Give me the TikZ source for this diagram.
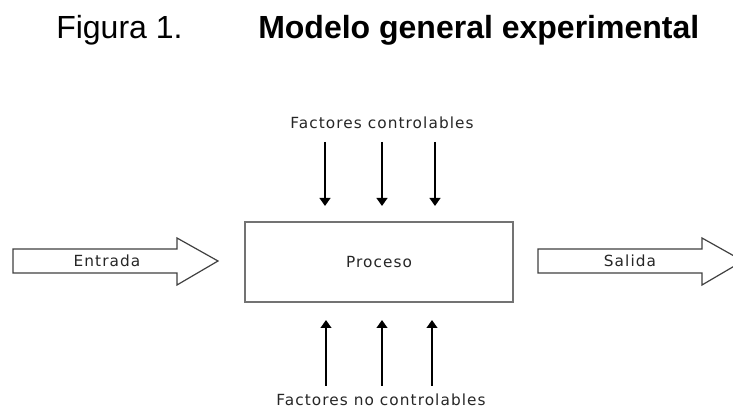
\documentclass[tikz,border=0pt]{standalone}
\usepackage{fontspec}
\setmainfont{Liberation Sans}
\newfontfamily\lblfont[LetterSpace=7]{DejaVu Sans}
\usetikzlibrary{arrows.meta}
\begin{document}
\begin{tikzpicture}[x=0.75pt,y=-0.75pt,
  lbl/.style={font=\lblfont\fontsize{11.5pt}{13pt}\selectfont, inner sep=0pt, text=black!85},
  fatarrow/.style={draw=black!75, line width=0.9pt, fill=white, line join=miter},
  thinarrow/.style={line width=1.5pt, -{Triangle[width=8pt,length=6pt]}},
  procbox/.style={draw=black!55, line width=0.9pt, minimum width=268*0.75pt, minimum height=80*0.75pt, inner sep=0pt}
]
\useasboundingbox (0,0) rectangle (733,409);
\clip (0,0) rectangle (733,409);
% title
\node[anchor=base west, inner sep=0pt, font=\fontsize{24pt}{28pt}\selectfont] (fig) at (56,39) {Figura 1.};
\node[anchor=base west, inner sep=0pt, font=\fontsize{24pt}{28pt}\selectfont\bfseries] (tit) at (258,39) {Modelo general experimental};
% process box
\node[procbox, lbl] (proc) at (379,262) {Proceso};
% Entrada arrow
\draw[fatarrow] (13,249) -- (177,249) -- (177,238) -- (218,261) -- (177,285) -- (177,273) -- (13,273) -- cycle;
\node[lbl] (ent) at (107,261) {Entrada};
% Salida arrow
\draw[fatarrow] (538,249) -- (702,249) -- (702,238) -- (743,261) -- (702,285) -- (702,273) -- (538,273) -- cycle;
\node[lbl] (sal) at (630,261) {Salida};
% top label and arrows
\node[lbl] (fc) at (382,123) {Factores controlables};
\coordinate (d1s) at (325,142); \coordinate (d1e) at (325,206);
\coordinate (d2s) at (382,142); \coordinate (d2e) at (382,206);
\coordinate (d3s) at (435,142); \coordinate (d3e) at (435,206);
\draw[thinarrow] (d1s) -- (d1e);
\draw[thinarrow] (d2s) -- (d2e);
\draw[thinarrow] (d3s) -- (d3e);
% bottom arrows and label
\coordinate (u1s) at (326,386); \coordinate (u1e) at (326,320);
\coordinate (u2s) at (382,386); \coordinate (u2e) at (382,320);
\coordinate (u3s) at (432,386); \coordinate (u3e) at (432,320);
\draw[thinarrow] (u1s) -- (u1e);
\draw[thinarrow] (u2s) -- (u2e);
\draw[thinarrow] (u3s) -- (u3e);
\node[lbl] (fnc) at (381,400) {Factores no controlables};
\end{tikzpicture}
\end{document}
